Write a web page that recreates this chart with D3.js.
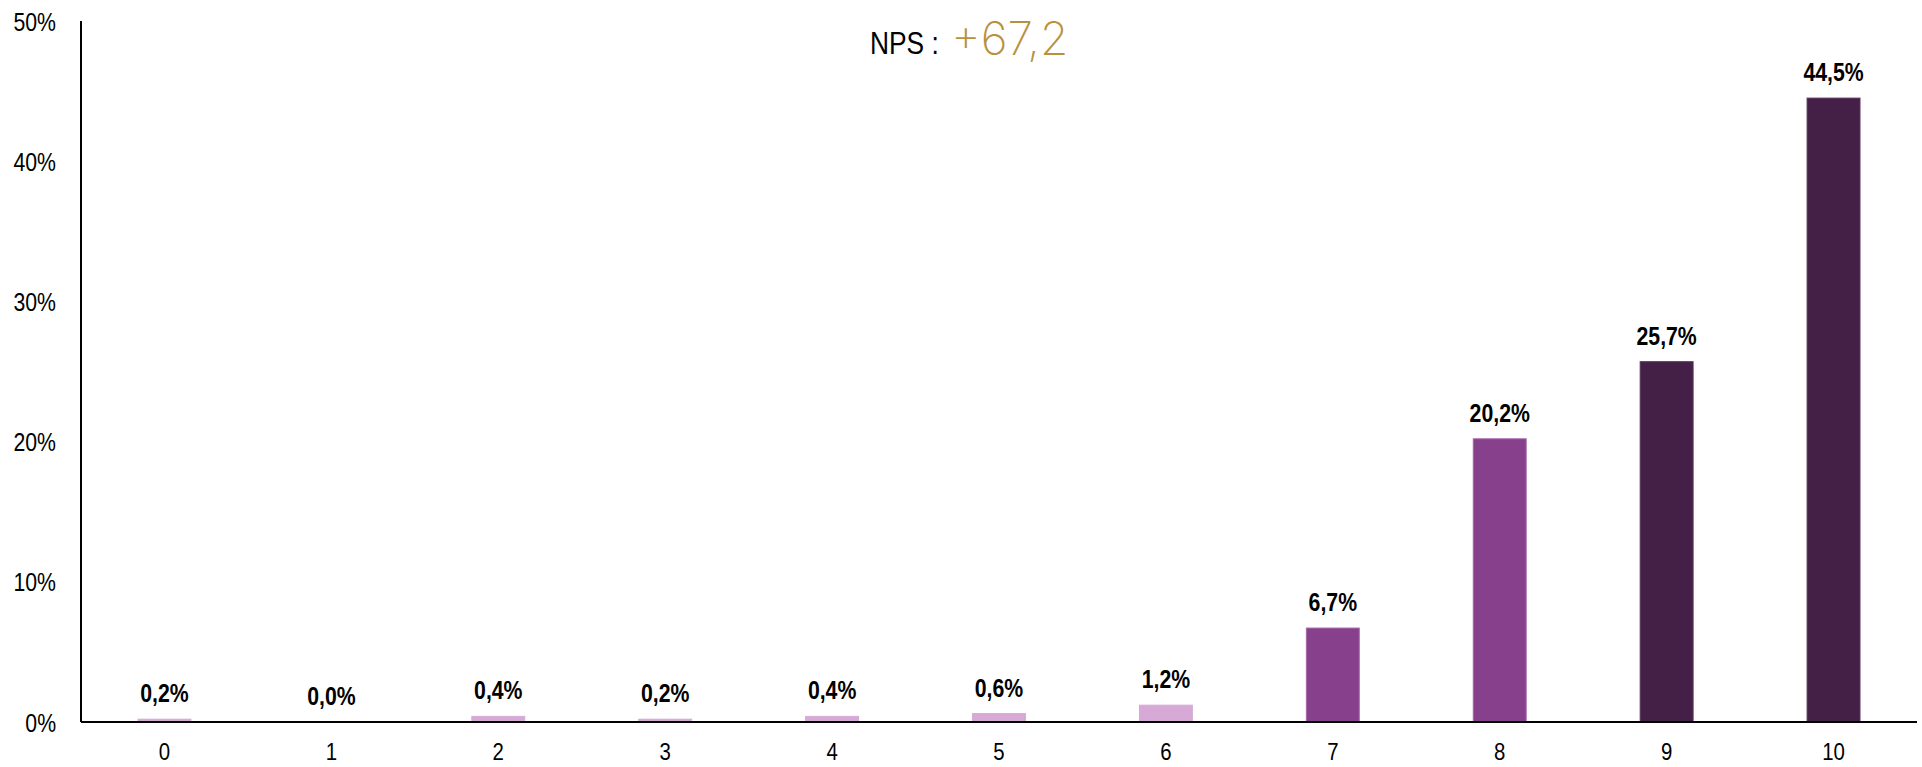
<!DOCTYPE html>
<html>
<head>
<meta charset="utf-8">
<script src="https://cdn.jsdelivr.net/npm/d3@7"></script>
<style>
  html, body { margin: 0; padding: 0; background: #fff; }
  svg { display: block; }
</style>
</head>
<body>
<svg id="chart" width="1922" height="767"></svg>
<script>
const categories = ["0", "1", "2", "3", "4", "5", "6", "7", "8", "9", "10"];
const values = [0.2, 0.0, 0.4, 0.2, 0.4, 0.6, 1.2, 6.7, 20.2, 25.7, 44.5];
const groups = ["detractor", "detractor", "detractor", "detractor", "detractor", "detractor", "detractor", "passive", "passive", "promoter", "promoter"];
const yTicks = [0, 10, 20, 30, 40, 50];
const npsLabel = "NPS :";
const npsValue = "+67,2";

const groupColors = { detractor: "#D6A9D7", passive: "#87408C", promoter: "#442047" };
const groupStroke = { detractor: "#D6A9D7", passive: "#A566A9", promoter: "#5B3260" };

const svg = d3.select("#chart");
const mLeft = 81, mRight = 1917, mTop = 21, mBottom = 722;
const squeeze = 0.85; // emulate a condensed face

const x = d3.scaleBand().domain(categories).range([mLeft, mRight]).paddingInner(0.683).paddingOuter(0.3415);
const y = d3.scaleLinear().domain([0, 50]).range([mBottom, mTop]);

const font = "'Liberation Sans', Arial, sans-serif";

// bars
svg.append("g").selectAll("rect").data(categories).join("rect")
  .attr("x", d => x(d))
  .attr("y", (d, i) => y(values[i]))
  .attr("width", x.bandwidth())
  .attr("height", (d, i) => y(0) - y(values[i]))
  .attr("fill", (d, i) => groupColors[groups[i]])
  .attr("stroke", (d, i) => values[i] > 0 ? groupStroke[groups[i]] : "none")
  .attr("stroke-width", 1);

// y axis
const yAxis = d3.axisLeft(y).tickValues(yTicks).tickSize(0).tickPadding(25).tickFormat(d => d + "%");
const gy = svg.append("g").attr("transform", `translate(${mLeft},0)`).call(yAxis);
gy.select(".domain").attr("stroke", "#000").attr("stroke-width", 2).attr("d", `M0,${mTop}V${mBottom}`);
gy.selectAll("text")
  .attr("font-family", font).attr("font-size", 25).attr("fill", "#000")
  .attr("x", -25 / squeeze).attr("dy", "0.36em")
  .attr("transform", `scale(${squeeze},1)`);

// x axis
const xAxis = d3.axisBottom(x).tickSize(0).tickPadding(21);
const gx = svg.append("g").attr("transform", `translate(0,${mBottom})`).call(xAxis);
gx.select(".domain").attr("stroke", "#000").attr("stroke-width", 2).attr("d", `M${mLeft},0H${mRight}`);
gx.selectAll("text")
  .attr("font-family", font).attr("font-size", 24).attr("fill", "#000")
  .attr("transform", `scale(${squeeze},1)`);

// data labels
svg.append("g").selectAll("text").data(categories).join("text")
  .attr("transform", (d, i) => `translate(${x(d) + x.bandwidth() / 2},${y(values[i]) - 17}) scale(${squeeze},1)`)
  .attr("text-anchor", "middle")
  .attr("font-family", font)
  .attr("font-weight", "bold")
  .attr("font-size", 25)
  .attr("fill", "#000")
  .text((d, i) => values[i].toFixed(1).replace(".", ",") + "%");

// NPS title
svg.append("text")
  .attr("transform", `translate(870,54) scale(${squeeze},1)`)
  .attr("font-family", font).attr("font-size", 31).attr("fill", "#000")
  .text(npsLabel);
svg.append("text")
  .attr("x", 951).attr("y", 55)
  .attr("font-family", "'Helvetica Neue', Inter, Roboto, sans-serif").attr("font-weight", 200)
  .attr("font-size", 46).attr("fill", "#B8913E")
  .text(npsValue);
</script>
</body>
</html>
